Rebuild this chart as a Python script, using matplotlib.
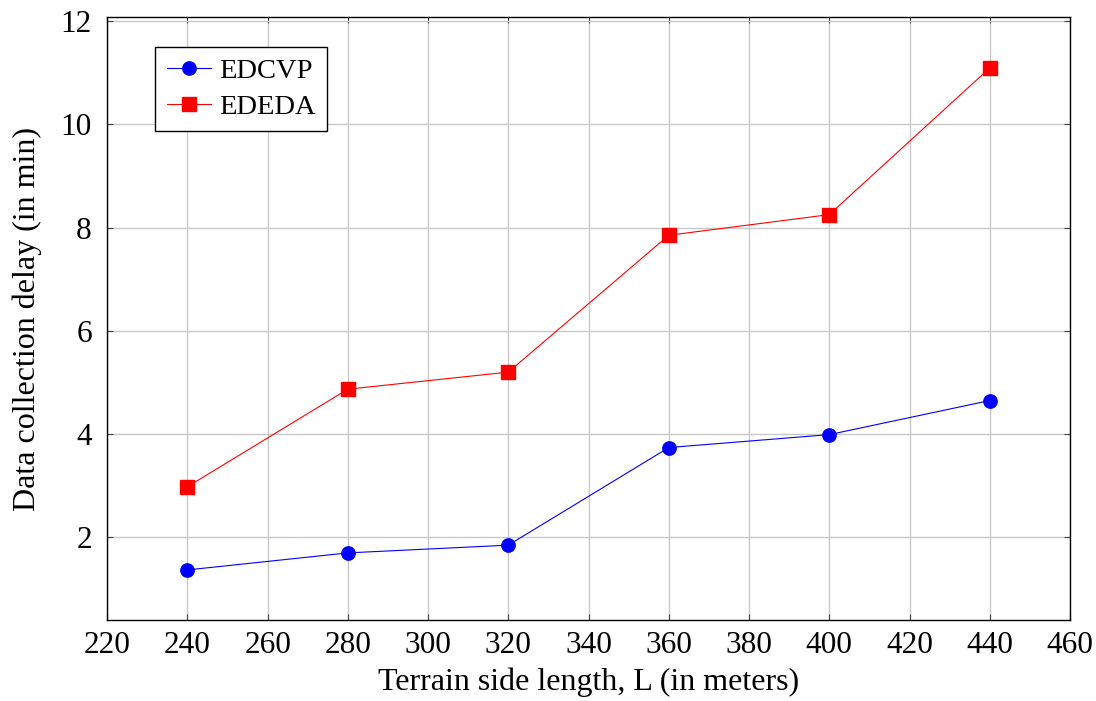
import matplotlib
matplotlib.use("Agg")
import matplotlib.pyplot as plt

# terrain side length (m) and delays (min)
terrain_len = [240, 280, 320, 360, 400, 440]
edcvp_delay = [1.37, 1.70, 1.85, 3.74, 3.99, 4.65]
ededa_delay = [2.98, 4.87, 5.20, 7.85, 8.25, 11.09]

x_ticks = list(range(220, 461, 20))
y_ticks = [2, 4, 6, 8, 10, 12]

plt.rcParams["font.family"] = ["Liberation Serif", "DejaVu Serif"]

fig = plt.figure(figsize=(10.96, 7.01), dpi=100)
ax = fig.add_axes([0.0977, 0.1155, 0.8786, 0.8598])

ax.plot(terrain_len, edcvp_delay, color="blue", lw=0.8, marker="o", ms=9.6, label="EDCVP")
ax.plot(terrain_len, ededa_delay, color="red", lw=0.8, marker="s", ms=9.6, label="EDEDA")

ax.set_xlim(220, 460)
ax.set_ylim(0.4, 12.07)
ax.set_xticks(x_ticks)
ax.set_yticks(y_ticks)
ax.grid(True, color="#c8c8c8", lw=1.0)
ax.set_axisbelow(True)
ax.tick_params(direction="in", length=4, width=0.8, top=True, right=True,
               labelsize=22.5, color="#444444")
ax.tick_params(axis="x", pad=8)
ax.tick_params(axis="y", pad=11)
for s in ax.spines.values():
    s.set_linewidth(1.0)

ax.set_xlabel("Terrain side length, L (in meters)", fontsize=23, labelpad=5)
ax.set_ylabel("Data collection delay (in min)", fontsize=23, labelpad=13)

leg = ax.legend(loc="upper left", bbox_to_anchor=(0.05, 0.951), fontsize=20.5,
                frameon=True, fancybox=False, edgecolor="black", framealpha=1,
                handlelength=1.55, borderpad=0.4, labelspacing=0.35, handletextpad=0.3,
                borderaxespad=0)
leg.get_frame().set_linewidth(1.0)

fig.savefig("out.png", dpi=100)
